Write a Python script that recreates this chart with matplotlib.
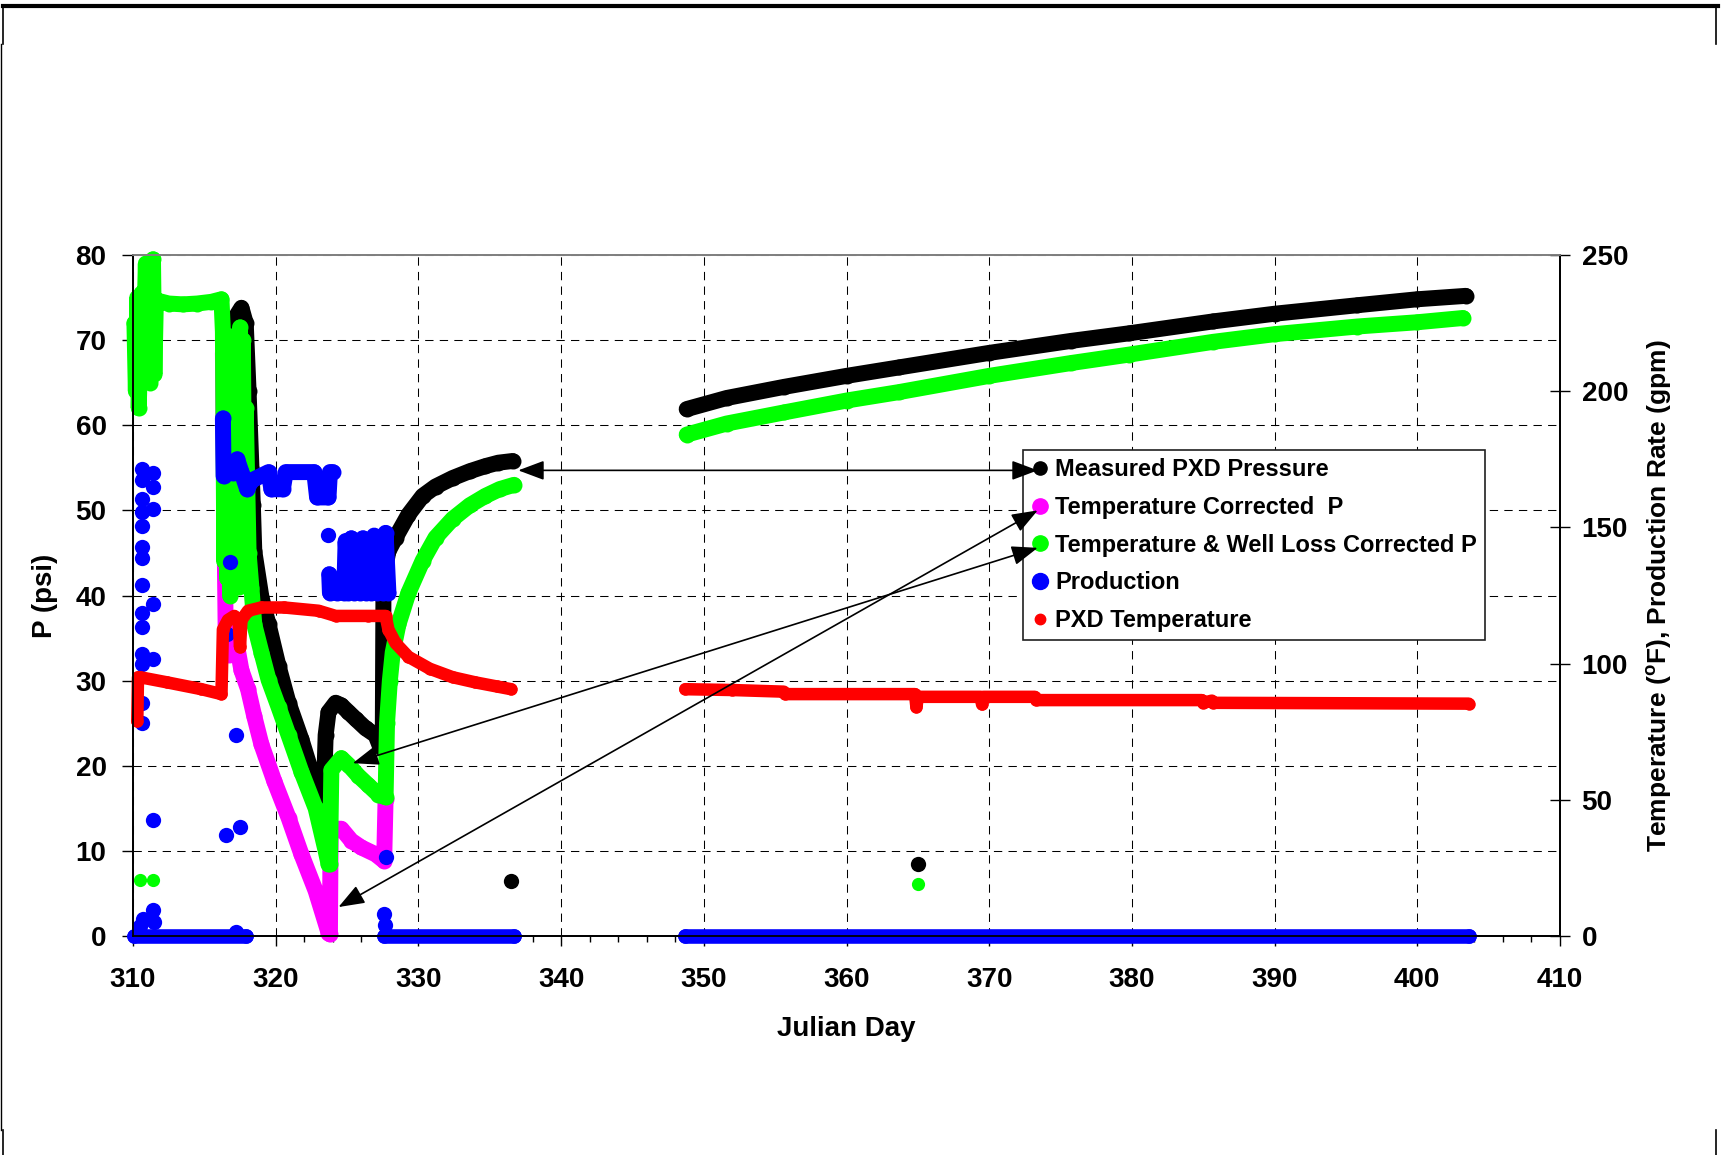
import matplotlib.pyplot as plt
from matplotlib.lines import Line2D
from matplotlib.ticker import MultipleLocator

plt.rcParams['font.family'] = ['Liberation Sans', 'DejaVu Sans']
plt.rcParams['font.weight'] = 'bold'
plt.rcParams['mathtext.fontset'] = 'custom'
plt.rcParams['mathtext.rm'] = 'Liberation Sans:bold'
plt.rcParams['mathtext.bf'] = 'Liberation Sans:bold'

# ---- data ----
# Measured PXD Pressure (psi)
meas_day_a = [317.0, 317.3, 317.6, 317.9, 318.1, 318.3, 318.4, 318.5, 319.0, 319.5, 320.2,
              320.9, 321.8, 322.5, 323.2, 323.35, 323.5, 323.7, 324.2, 324.6, 325.1, 325.6,
              326.3, 327.0, 327.3, 327.5, 327.55, 327.7, 327.9, 328.4, 329.3, 330.3, 331.2,
              332.4, 333.6, 334.7, 335.6, 336.6]
meas_p_a = [71.5, 73.0, 73.8, 72.0, 64.0, 55.0, 50.6, 45.2, 39.8, 36.6, 31.7,
            27.4, 23.1, 19.3, 16.1, 15.3, 23.6, 26.3, 27.4, 27.1, 26.3, 25.5,
            24.4, 23.6, 22.3, 22.0, 40.0, 43.5, 45.2, 46.8, 49.5, 51.7, 52.8,
            53.8, 54.6, 55.2, 55.6, 55.8]
meas_day_b = [348.8, 351.6, 355.6, 360.0, 363.7, 370.0, 375.7, 379.8, 385.7, 390.0, 395.8, 400.0, 403.4]
meas_p_b = [61.9, 63.2, 64.5, 65.8, 66.8, 68.5, 69.9, 70.8, 72.2, 73.1, 74.1, 74.8, 75.2]
meas_odd_day = [336.5, 365.0]
meas_odd_p = [6.5, 8.5]

# Temperature Corrected P (psi)
tcorr_day = [316.3, 316.4, 316.5, 316.7, 317.0, 317.3, 317.6, 318.06, 318.5, 319.0, 319.9,
             320.9, 321.8, 322.8, 323.7, 323.8, 323.85, 324.6, 325.3, 326.0, 327.0, 327.6, 327.7]
tcorr_p = [68.5, 50.0, 35.0, 33.0, 35.5, 34.0, 31.2, 29.0, 25.8, 22.5, 18.2,
           13.9, 9.6, 5.3, 0.4, 0.2, 12.6, 12.6, 11.2, 10.4, 9.6, 8.8, 16.1]

# Temperature & Well Loss Corrected P (psi)
wl_day_a = [310.1, 310.2, 310.3, 310.4, 310.5, 310.6, 310.7, 310.8, 310.9, 311.0, 311.1,
            311.2, 311.3, 311.4, 311.5, 311.6, 311.8, 312.5, 313.5, 314.5, 315.5, 316.2,
            316.3, 316.4, 316.5, 316.6, 316.7, 316.8, 316.9, 317.0, 317.1, 317.2, 317.3,
            317.4, 317.5, 317.6, 317.7, 317.8, 317.9,
            318.1, 318.3, 318.5, 319.0, 319.5, 320.2, 320.9, 321.8, 322.8, 323.5, 323.7,
            323.8, 323.9, 324.6, 325.1, 325.8, 326.5, 327.2, 327.7, 327.8, 328.0, 328.2,
            328.6, 329.3, 330.3, 331.2, 332.4, 333.6, 334.7, 335.7, 336.7]
wl_p_a = [72.0, 64.0, 75.0, 62.0, 68.0, 75.5, 66.0, 72.0, 79.0, 70.0, 76.0,
          65.0, 74.0, 79.5, 66.0, 74.5, 74.6, 74.3, 74.2, 74.3, 74.5, 74.8,
          71.0, 44.0, 70.0, 42.0, 66.0, 40.0, 60.0, 42.0, 70.5, 44.0, 68.0,
          41.0, 71.5, 45.0, 70.0, 48.0, 62.0,
          45.0, 40.9, 36.6, 33.3, 30.1, 26.9, 23.6, 19.3, 15.0, 10.0, 8.5,
          8.5, 19.5, 20.9, 20.1, 18.8, 17.7, 16.6, 16.3, 25.0, 30.0, 33.3,
          36.6, 40.3, 44.1, 46.8, 49.0, 50.6, 51.7, 52.5, 53.0]
wl_day_b = [348.8, 351.6, 355.6, 360.0, 363.7, 370.0, 375.7, 379.8, 385.7, 390.0, 395.8, 400.0, 403.2]
wl_p_b = [58.9, 60.2, 61.5, 62.9, 63.9, 65.8, 67.3, 68.3, 69.8, 70.7, 71.6, 72.1, 72.6]
wl_odd_day = [310.5, 311.4, 365.0]
wl_odd_p = [6.6, 6.6, 6.1]

# Production (gpm)
prod_dot_day = [310.66] * 14 + [311.43] * 6 + [310.5, 310.7, 311.4, 311.45,
                316.5, 316.6, 316.8, 317.2, 317.5, 317.2, 327.7, 327.6, 327.65, 323.7]
prod_dot_gpm = [171.6, 167.5, 160.6, 155.6, 150.6, 142.8, 138.8, 128.8, 118.4, 113.4,
                103.4, 100.0, 85.6, 78.1,
                170.0, 165.0, 156.6, 121.9, 101.6, 42.5,
                3.8, 6.3, 9.7, 5.0,
                36.9, 111.0, 137.2, 73.8, 40.0, 1.5, 29.0, 8.0, 4.0, 147.2]
prod_blk1_day = [316.3, 316.35, 316.6, 317.0, 317.3, 317.6, 318.0, 318.3, 319.5, 319.7,
                 320.5, 320.7, 322.7, 322.9, 323.7, 323.8, 324.0]
prod_blk1_gpm = [190.0, 168.8, 171.9, 170.0, 175.0, 170.3, 164.0, 167.2, 170.3, 164.0,
                 164.0, 170.3, 170.3, 161.0, 161.0, 170.3, 170.3]
prod_blk2_day = [323.75, 323.8, 324.3, 324.8, 324.9, 325.1, 325.3, 325.5, 325.7, 325.9,
                 326.1, 326.3, 326.5, 326.7, 326.9, 327.1, 327.3, 327.5, 327.7, 327.9]
prod_blk2_gpm = [132.8, 126.0, 126.0, 126.0, 145.0, 126.0, 146.0, 126.0, 144.0, 126.0,
                 146.0, 126.0, 145.0, 126.0, 147.0, 126.0, 146.0, 126.0, 148.0, 126.0]
prod_zero_start = [310.1, 327.6, 348.7]
prod_zero_end = [317.9, 336.7, 403.6]

# PXD Temperature (F)
temp_day_a = [310.3, 310.35, 310.5, 312.4, 314.8, 316.2, 316.3, 316.65, 317.1, 317.4, 317.5,
              317.6, 318.06, 319.0, 320.6, 323.0, 324.2, 326.5, 327.7, 327.9, 328.4, 329.3,
              330.8, 332.4, 334.0, 335.5, 336.5]
temp_f_a = [78.8, 95.0, 95.0, 93.1, 90.6, 88.8, 112.5, 116.0, 117.5, 116.0, 106.0,
            116.0, 119.4, 120.6, 120.6, 119.4, 117.5, 117.5, 117.5, 112.5, 107.5, 102.5,
            98.1, 95.0, 93.1, 91.6, 90.6]
temp_day_b = [348.7, 352.0, 355.6, 355.7, 364.8, 364.9, 365.0, 369.4, 369.5, 369.6, 373.2,
              373.3, 384.9, 385.0, 385.6, 385.7, 403.6]
temp_f_b = [90.6, 90.3, 89.7, 88.8, 88.8, 84.0, 87.8, 87.8, 85.0, 87.8, 87.8,
            86.6, 86.6, 85.6, 86.4, 85.6, 85.3]

legend_labels = ['Measured PXD Pressure', 'Temperature Corrected  P',
                 'Temperature & Well Loss Corrected P', 'Production', 'PXD Temperature']

BLACK, MAGENTA, GREEN, BLUE, RED = '#000000', '#ff00ff', '#00ff00', '#0000ff', '#ff0000'

W, H = 1721, 1155
fig = plt.figure(figsize=(W / 100, H / 100), dpi=100)
ax = fig.add_axes([133 / W, 1 - 936 / H, (1560 - 133) / W, (936 - 255) / H])
ax2 = ax.twinx()


def trace(axis, x, y, color, size):
    axis.plot(x, y, '-', color=color, lw=size, marker='o', ms=size, mew=0,
              solid_capstyle='round', solid_joinstyle='round', clip_on=False)


def dots(axis, x, y, color, size):
    axis.plot(x, y, 'o', color=color, ms=size, mew=0, clip_on=False)


trace(ax, meas_day_a, meas_p_a, BLACK, 11.5)
trace(ax, meas_day_b, meas_p_b, BLACK, 11.5)
dots(ax, meas_odd_day, meas_odd_p, BLACK, 11)

trace(ax, tcorr_day, tcorr_p, MAGENTA, 11.5)

trace(ax, wl_day_a, wl_p_a, GREEN, 11.5)
trace(ax, wl_day_b, wl_p_b, GREEN, 11.5)
dots(ax, wl_odd_day, wl_odd_p, GREEN, 9.5)

for s, e in zip(prod_zero_start, prod_zero_end):
    trace(ax2, [s, e], [0, 0], BLUE, 10.5)
trace(ax2, prod_blk1_day, prod_blk1_gpm, BLUE, 11.5)
trace(ax2, prod_blk2_day, prod_blk2_gpm, BLUE, 11.5)
dots(ax2, prod_dot_day, prod_dot_gpm, BLUE, 11)

trace(ax2, temp_day_a, temp_f_a, RED, 9)
trace(ax2, temp_day_b, temp_f_b, RED, 9)

# axes
ax.set_xlim(310, 410)
ax.set_ylim(0, 80)
ax2.set_ylim(0, 250)
ax.xaxis.set_major_locator(MultipleLocator(10))
ax.xaxis.set_minor_locator(MultipleLocator(2))
ax.yaxis.set_major_locator(MultipleLocator(10))
ax2.yaxis.set_major_locator(MultipleLocator(50))

ax.set_axisbelow(True)
ax.grid(True, which='major', color='black', lw=0.75, ls=(0, (8, 6)))

ax.tick_params(axis='x', which='major', direction='out', length=7, width=1,
               labelsize=20, pad=15)
ax.tick_params(axis='x', which='minor', direction='out', length=4.5, width=1)
ax.tick_params(axis='y', direction='out', length=8, width=1, labelsize=20, pad=11)
ax2.tick_params(axis='y', direction='inout', length=15, width=1, labelsize=20, pad=8)

for sp in ax.spines.values():
    sp.set_linewidth(1.3)
ax.spines['top'].set_color('#808080')
ax2.spines['top'].set_color('#808080')
for sp in ax2.spines.values():
    sp.set_linewidth(1.3)

ax.set_xlabel('Julian Day', fontsize=20, fontweight='bold', labelpad=17)
ax.set_ylabel('P (psi)', fontsize=20, fontweight='bold', labelpad=13)
ax2.set_ylabel(r'Temperature ($^{\mathbf{o}}$F), Production Rate (gpm)',
               fontsize=19, fontweight='bold', labelpad=12)

# legend
handles = [Line2D([], [], ls='none', marker='o', color=BLACK, ms=9.5),
           Line2D([], [], ls='none', marker='o', color=MAGENTA, ms=11),
           Line2D([], [], ls='none', marker='o', color=GREEN, ms=11),
           Line2D([], [], ls='none', marker='o', color=BLUE, ms=11.5),
           Line2D([], [], ls='none', marker='o', color=RED, ms=7.5)]
leg = ax2.legend(handles, legend_labels, loc='upper left', bbox_to_anchor=(0.624, 0.7137),
                 borderaxespad=0, fontsize=17, frameon=True, fancybox=False,
                 framealpha=1, edgecolor='#202020', handlelength=0.7,
                 handletextpad=0.3, borderpad=0.35, labelspacing=0.62)
leg.get_frame().set_linewidth(1.2)
for t in leg.get_texts():
    t.set_fontweight('bold')

# arrows from the legend to the curves
arrow_props = dict(arrowstyle='<|-|>,head_length=0.8,head_width=0.3', color='black',
                   lw=1.2, shrinkA=0, shrinkB=0, mutation_scale=20)
arrow_ends = [((337.0, 54.7), (373.4, 54.7)),
              ((324.4, 3.4), (373.4, 50.0)),
              ((325.4, 20.3), (373.4, 45.6))]
for tip, tail in arrow_ends:
    ax2.annotate('', xy=tip, xycoords=ax.transData, xytext=tail, textcoords=ax.transData,
                 arrowprops=arrow_props, zorder=8)

# page frame remnants
frame_lines = [([3, 1718], [6, 6], 3.0), ([3, 3], [6, 44], 1.2), ([1716, 1716], [6, 44], 1.2),
               ([1, 1], [44, 1130], 1.0), ([3, 3], [1130, 1155], 1.2),
               ([1716, 1716], [1130, 1155], 1.2)]
for xs, ys, lw in frame_lines:
    fig.add_artist(Line2D([x / W for x in xs], [1 - y / H for y in ys], color='black',
                          lw=lw, transform=fig.transFigure))

fig.savefig('out.png', dpi=100, facecolor='white')
